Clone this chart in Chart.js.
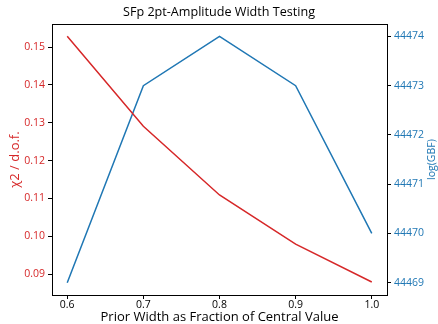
<!DOCTYPE html>
<html>
<head>
<meta charset="utf-8">
<script src="https://cdn.jsdelivr.net/npm/chart.js@4"></script>
<style>
  html, body { margin: 0; padding: 0; background: #fff; }
  #wrap { width: 438px; height: 324px; }
</style>
</head>
<body>
<div id="wrap"><canvas id="chart"></canvas></div>
<script>
const widths = [0.6, 0.7, 0.8, 0.9, 1.0];
const chi2 = [0.1529, 0.1291, 0.1109, 0.0979, 0.0879];
const logGBF = [44469, 44473, 44474, 44473, 44470];
const xTicks = [0.6, 0.7, 0.8, 0.9, 1.0];
const chiTicks = [0.09, 0.10, 0.11, 0.12, 0.13, 0.14, 0.15];
const gbfTicks = [44469, 44470, 44471, 44472, 44473, 44474];

const RED = "#d62728";
const BLUE = "#1f77b4";
const FONT = "'Open Sans', 'DejaVu Sans', sans-serif";

// box around the plot area like matplotlib's spines, plus the right axis title (reads upward)
const frame = {
  id: "frame",
  afterDraw(chart) {
    const { ctx, chartArea: a } = chart;
    ctx.save();
    ctx.strokeStyle = "#000";
    ctx.lineWidth = 1;
    ctx.strokeRect(Math.round(a.left) + 0.5, Math.round(a.top) + 0.5,
      Math.round(a.right - a.left), Math.round(a.bottom - a.top));
    ctx.translate(432, (a.top + a.bottom) / 2);
    ctx.rotate(-Math.PI / 2);
    ctx.fillStyle = BLUE;
    ctx.font = "10.5px " + FONT;
    ctx.textAlign = "center";
    ctx.textBaseline = "middle";
    ctx.fillText("log(GBF)", 0, 0);
    ctx.restore();
  }
};

const fixTicks = vals => scale => { scale.ticks = vals.map(v => ({ value: v })); };

const ctx = document.getElementById("chart").getContext("2d");
new Chart(ctx, {
  type: "line",
  data: {
    datasets: [
      { label: "chi2", data: widths.map((x, i) => ({ x, y: chi2[i] })), borderColor: RED,
        borderWidth: 1.5, pointRadius: 0, yAxisID: "y", tension: 0 },
      { label: "logGBF", data: widths.map((x, i) => ({ x, y: logGBF[i] })), borderColor: BLUE,
        borderWidth: 1.5, pointRadius: 0, yAxisID: "y1", tension: 0 }
    ]
  },
  options: {
    responsive: true,
    maintainAspectRatio: false,
    animation: false,
    layout: { padding: 0 },
    plugins: {
      legend: { display: false },
      tooltip: { enabled: false },
      title: {
        display: true,
        text: "SFp 2pt-Amplitude Width Testing",
        color: "#000",
        font: { family: FONT, size: 12.6, weight: "normal" },
        padding: { top: 4.5, bottom: 4.5 }
      }
    },
    scales: {
      x: {
        type: "linear", min: 0.58, max: 1.02,
        afterBuildTicks: fixTicks(xTicks),
        afterFit: s => { s.height = 29; },
        grid: { drawOnChartArea: false, drawTicks: true, tickLength: 4, color: "#000" },
        border: { display: true, color: "#000" },
        ticks: { color: "#000", font: { family: FONT, size: 10.5 }, padding: 0, maxRotation: 0,
          callback: v => v.toFixed(1) },
        title: { display: true, text: "Prior Width as Fraction of Central Value", color: "#000",
          font: { family: FONT, size: 13 }, padding: { top: 0, bottom: -1 } }
      },
      y: {
        position: "left", min: 0.08445, max: 0.1561,
        afterBuildTicks: fixTicks(chiTicks),
        afterFit: s => { s.width = 52; },
        grid: { drawOnChartArea: false, drawTicks: true, tickLength: 4, color: "#000" },
        border: { display: true, color: "#000" },
        ticks: { color: RED, font: { family: FONT, size: 10.5 }, padding: 3,
          callback: v => v.toFixed(2) },
        title: { display: true, text: "χ2 / d.o.f.", color: RED,
          font: { family: FONT, size: 13 }, padding: { top: 7, bottom: 0 } }
      },
      y1: {
        position: "right", min: 44468.75, max: 44474.25,
        afterBuildTicks: fixTicks(gbfTicks),
        afterFit: s => { s.width = 51; },
        grid: { drawOnChartArea: false, drawTicks: true, tickLength: 4, color: "#000" },
        border: { display: true, color: "#000" },
        ticks: { color: BLUE, font: { family: FONT, size: 10.5 }, padding: 3,
          callback: v => String(v) }
      }
    }
  },
  plugins: [frame]
});
</script>
</body>
</html>
